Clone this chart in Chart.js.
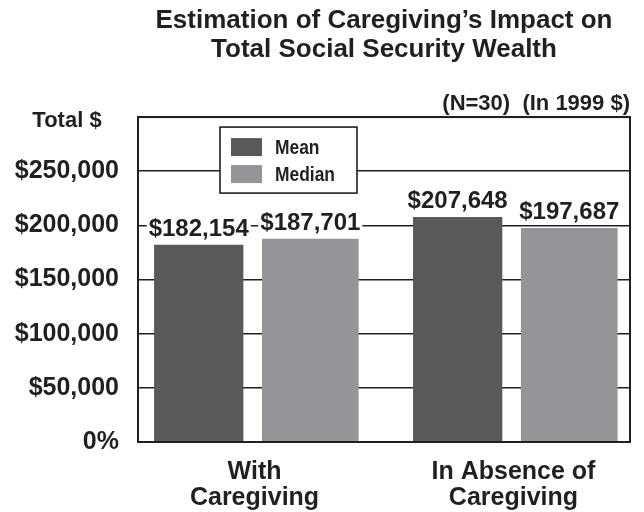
<!DOCTYPE html>
<html>
<head>
<meta charset="utf-8">
<script src="https://cdn.jsdelivr.net/npm/chart.js@4/dist/chart.umd.min.js"></script>
<style>
html,body{margin:0;padding:0;background:#fff;}
#wrap{width:644px;height:512px;}
</style>
</head>
<body>
<div id="wrap"><canvas id="c" width="644" height="512"></canvas></div>
<script>
// ---- data ----
const categories = [['With', 'Caregiving'], ['In Absence of', 'Caregiving']];
const seriesNames = ['Mean', 'Median'];
const meanValues = [182154, 207648];
const medianValues = [187701, 197687];
const yTickLabels = ['0%', '$50,000', '$100,000', '$150,000', '$200,000', '$250,000', ''];
const titleLines = ['Estimation of Caregiving\u2019s Impact on', 'Total Social Security Wealth'];
const subtitleText = '(N=30)  (In 1999 $)';
const yUnitText = 'Total $';

const INK = '#231f20';
const FONT = "'Liberation Sans', Arial, Helvetica, sans-serif";
const colors = ['#58595b', '#939598'];

function money(v) { return '$' + v.toLocaleString('en-US'); }
function toPoints(values) { return values.map((v, i) => ({ x: i, y: v })); }

const decor = {
  id: 'decor',
  afterDatasetsDraw(chart) {
    const ctx = chart.ctx;
    const a = chart.chartArea;
    ctx.save();
    // value labels
    ctx.font = 'bold 24px ' + FONT;
    ctx.textAlign = 'center';
    ctx.textBaseline = 'alphabetic';
    chart.data.datasets.forEach((ds, di) => {
      chart.getDatasetMeta(di).data.forEach((bar, i) => {
        const txt = money(ds.data[i].y);
        const w = ctx.measureText(txt).width;
        const y = bar.y - 9;
        ctx.fillStyle = '#fff';
        ctx.fillRect(bar.x - w / 2 - 2, y - 19, w + 4, 24);
        ctx.fillStyle = INK;
        ctx.fillText(txt, bar.x, y);
      });
    });
    // frame
    ctx.strokeStyle = INK;
    ctx.lineWidth = 2;
    ctx.strokeRect(a.left, a.top, a.right - a.left, a.bottom - a.top);
    // legend box
    const lx = a.left + 82, ly = a.top + 10, lw = 137, lh = 66;
    ctx.fillStyle = '#fff';
    ctx.fillRect(lx, ly, lw, lh);
    ctx.lineWidth = 1.6;
    ctx.strokeRect(lx, ly, lw, lh);
    ctx.font = 'bold 20px ' + FONT;
    ctx.textAlign = 'left';
    ctx.textBaseline = 'middle';
    chart.data.datasets.forEach((ds, di) => {
      const sy = ly + 11 + di * 27;
      ctx.fillStyle = ds.backgroundColor;
      ctx.fillRect(lx + 11, sy, 31, 18);
      ctx.fillStyle = INK;
      ctx.save();
      ctx.translate(lx + 55, sy + 10);
      ctx.scale(0.87, 1);
      ctx.fillText(ds.label, 0, 0);
      ctx.restore();
    });
    // unit label above y axis
    ctx.font = 'bold 22px ' + FONT;
    ctx.textAlign = 'center';
    ctx.textBaseline = 'alphabetic';
    ctx.fillStyle = INK;
    ctx.fillText(yUnitText, 67, a.top + 10);
    ctx.restore();
  }
};

new Chart(document.getElementById('c'), {
  type: 'bar',
  data: {
    datasets: [
      { label: seriesNames[0], data: toPoints(meanValues), backgroundColor: colors[0], barPercentage: 0.8 },
      { label: seriesNames[1], data: toPoints(medianValues), backgroundColor: colors[1], barPercentage: 0.866 }
    ]
  },
  options: {
    responsive: false,
    animation: false,
    devicePixelRatio: 1,
    layout: { padding: { left: 0, right: 14, top: 0, bottom: 0 } },
    datasets: { bar: { categoryPercentage: 0.862 } },
    plugins: {
      legend: { display: false },
      tooltip: { enabled: false },
      title: {
        display: true,
        fullSize: false,
        text: titleLines,
        color: INK,
        font: { family: FONT, size: 26, weight: 'bold', lineHeight: 1.09 },
        padding: { top: 7, bottom: 27 }
      },
      subtitle: {
        display: true,
        fullSize: false,
        text: subtitleText,
        align: 'end',
        color: INK,
        font: { family: FONT, size: 22, weight: 'bold', lineHeight: 1.2 },
        padding: { top: 0, bottom: 0 }
      }
    },
    scales: {
      x: {
        type: 'linear',
        min: -0.45,
        max: 1.45,
        offset: false,
        grid: { display: false, drawTicks: false },
        border: { display: false },
        ticks: {
          stepSize: 1,
          includeBounds: false,
          color: INK,
          padding: 17,
          maxRotation: 0,
          autoSkip: false,
          font: { family: FONT, size: 25, weight: 'bold', lineHeight: 1.03 },
          callback: (v) => (Number.isInteger(v) && categories[v]) ? categories[v] : ''
        },
        afterFit(s) { s.height = 70; }
      },
      y: {
        min: 0,
        max: 300000,
        grid: { color: INK, lineWidth: 1.5, drawTicks: false },
        border: { display: false },
        ticks: {
          stepSize: 50000,
          color: INK,
          padding: 19,
          font: { family: FONT, size: 25, weight: 'bold' },
          callback: (v, i) => yTickLabels[i]
        },
        afterFit(s) { s.width = 138; }
      }
    }
  },
  plugins: [decor]
});
</script>
</body>
</html>
